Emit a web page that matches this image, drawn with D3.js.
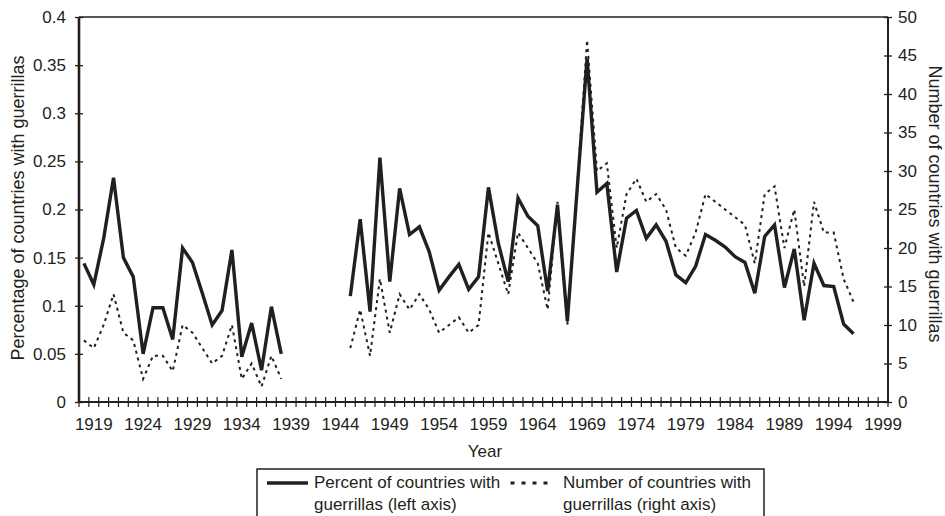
<!DOCTYPE html>
<html>
<head>
<meta charset="utf-8">
<script src="https://cdn.jsdelivr.net/npm/d3@7/dist/d3.min.js"></script>
<style>
    body { margin: 0; background: #fff; }
    text { font-family: "Liberation Sans", Arial, sans-serif; fill: #231f20; }
    .axis-line { stroke: #231f20; fill: none; }
</style>
</head>
<body>
<svg id="chart" width="945" height="516"></svg>
<script>
"use strict";

// categories: one per year, 1918 .. 1999
var years = d3.range(1918, 2000);
var label_years = [1919, 1924, 1929, 1934, 1939, 1944, 1949, 1954, 1959, 1964,
    1969, 1974, 1979, 1984, 1989, 1994, 1999];

// series values per year, 1918 .. 1996 (null = no data)
var percent_with_guerrillas = [
    0.144, 0.122, 0.170, 0.233, 0.150, 0.130, 0.050, 0.098, 0.098, 0.065,
    0.160, 0.145, 0.113, 0.080, 0.095, 0.158, 0.047, 0.082, 0.033, 0.099,
    0.050,
    null, null, null, null, null, null,
    0.110, 0.190, 0.094, 0.254, 0.125, 0.222, 0.174, 0.182, 0.156, 0.116,
    0.130, 0.143, 0.117, 0.130, 0.223, 0.165, 0.125, 0.212, 0.193, 0.183,
    0.115, 0.205, 0.084, 0.222, 0.357, 0.218, 0.227, 0.135, 0.191, 0.199,
    0.170, 0.184, 0.167, 0.132, 0.124, 0.141, 0.174, 0.168, 0.161, 0.151,
    0.145, 0.113, 0.172, 0.184, 0.119, 0.159, 0.085, 0.144, 0.121, 0.120,
    0.081, 0.071
];
var number_with_guerrillas = [
    8, 7, 10, 14, 9, 8, 3, 6, 6, 4,
    10, 9, 7, 5, 6, 10, 3, 5, 2, 6,
    3,
    null, null, null, null, null, null,
    7, 12, 6, 16, 9, 14, 12, 14, 12, 9,
    10, 11, 9, 10, 22, 18, 14, 22, 20, 18,
    12, 26, 10, 28, 47, 30, 31, 20, 27, 29,
    26, 27, 25, 20, 19, 22, 27, 26, 25, 24,
    23, 18, 27, 28, 20, 25, 15, 26, 22, 22,
    16, 13
];

// tick labels
var left_ticks = [0, 0.05, 0.1, 0.15, 0.2, 0.25, 0.3, 0.35, 0.4];
var right_ticks = [0, 5, 10, 15, 20, 25, 30, 35, 40, 45, 50];

var legend_items = [
    { lines: ["Percent of countries with", "guerrillas (left axis)"], dashed: false },
    { lines: ["Number of countries with", "guerrillas (right axis)"], dashed: true }
];

var plot = { left: 79, right: 888, top: 17, bottom: 402 };
var ink = "#231f20";

var svg = d3.select("#chart");

//
// scales
//

var x = d3.scaleBand()
    .domain(years)
    .range([plot.left, plot.right])
    .paddingInner(0)
    .paddingOuter(0);

function x_mid(year) {
    return x(year) + x.bandwidth() / 2;
}

var y_left = d3.scaleLinear().domain([0, 0.4]).range([plot.bottom, plot.top]);
var y_right = d3.scaleLinear().domain([0, 50]).range([plot.bottom, plot.top]);

//
// frame and axes
//

// top border of plot area
svg.append("line")
    .attr("class", "axis-line")
    .attr("x1", plot.left).attr("x2", plot.right)
    .attr("y1", plot.top).attr("y2", plot.top)
    .attr("stroke", "#444")
    .attr("stroke-width", 1.5);

// left axis
var left_axis = svg.append("g")
    .attr("transform", "translate(" + plot.left + ",0)")
    .call(d3.axisLeft(y_left)
        .tickValues(left_ticks)
        .tickFormat(function (d) { return d === 0 ? "0" : String(+d.toFixed(2)); })
        .tickSize(4)
        .tickPadding(9));
left_axis.select(".domain").remove();
left_axis.selectAll(".tick line").attr("x1", 4).attr("stroke", ink).attr("stroke-width", 1.3);
left_axis.selectAll(".tick text")
    .attr("font-size", 17)
    .attr("font-family", "Liberation Sans, Arial, sans-serif")
    .attr("fill", ink);
svg.append("line")
    .attr("class", "axis-line")
    .attr("x1", plot.left).attr("x2", plot.left)
    .attr("y1", plot.top).attr("y2", plot.bottom)
    .attr("stroke-width", 2.6);

// right axis
var right_axis = svg.append("g")
    .attr("transform", "translate(" + plot.right + ",0)")
    .call(d3.axisRight(y_right)
        .tickValues(right_ticks)
        .tickSize(4)
        .tickPadding(6));
right_axis.select(".domain").remove();
right_axis.selectAll(".tick line").attr("x1", -4).attr("stroke", ink).attr("stroke-width", 1.3);
right_axis.selectAll(".tick text")
    .attr("font-size", 17)
    .attr("font-family", "Liberation Sans, Arial, sans-serif")
    .attr("fill", ink);
svg.append("line")
    .attr("class", "axis-line")
    .attr("x1", plot.right).attr("x2", plot.right)
    .attr("y1", plot.top).attr("y2", plot.bottom)
    .attr("stroke-width", 2);

// bottom axis: crossing tick marks between categories
var tick_positions = years.map(function (d) { return x(d); }).concat([plot.right]);
svg.append("g").selectAll("line")
    .data(tick_positions)
    .enter().append("line")
    .attr("x1", function (d) { return d; })
    .attr("x2", function (d) { return d; })
    .attr("y1", plot.bottom - 5)
    .attr("y2", plot.bottom + 5)
    .attr("stroke", ink)
    .attr("stroke-width", 1.2);
svg.append("line")
    .attr("class", "axis-line")
    .attr("x1", plot.left).attr("x2", plot.right)
    .attr("y1", plot.bottom).attr("y2", plot.bottom)
    .attr("stroke-width", 2);

svg.append("g").selectAll("text")
    .data(label_years)
    .enter().append("text")
    .attr("x", function (d) { return x_mid(d); })
    .attr("y", 430)
    .attr("text-anchor", "middle")
    .attr("font-size", 17)
    .text(function (d) { return d; });

// axis titles
svg.append("text")
    .attr("transform", "translate(485,457)")
    .attr("text-anchor", "middle")
    .attr("font-size", 17)
    .text("Year");

svg.append("text")
    .attr("transform", "translate(18,208) rotate(-90)")
    .attr("text-anchor", "middle")
    .attr("dy", "0.35em")
    .attr("font-size", 18)
    .text("Percentage of countries with guerrillas");

svg.append("text")
    .attr("transform", "translate(935,204) rotate(90)")
    .attr("text-anchor", "middle")
    .attr("dy", "0.35em")
    .attr("font-size", 18)
    .text("Number of countries with guerrillas");

//
// series
//

var number_line = d3.line()
    .defined(function (d, i) { return number_with_guerrillas[i] !== null; })
    .x(function (d, i) { return x_mid(years[i]); })
    .y(function (d) { return y_right(d); });

svg.append("path")
    .attr("d", number_line(number_with_guerrillas))
    .attr("fill", "none")
    .attr("stroke", ink)
    .attr("stroke-width", 2)
    .attr("stroke-dasharray", "3,4");

var percent_line = d3.line()
    .defined(function (d, i) { return percent_with_guerrillas[i] !== null; })
    .x(function (d, i) { return x_mid(years[i]); })
    .y(function (d) { return y_left(d); });

svg.append("path")
    .attr("d", percent_line(percent_with_guerrillas))
    .attr("fill", "none")
    .attr("stroke", ink)
    .attr("stroke-width", 3.4)
    .attr("stroke-linejoin", "miter");

//
// legend
//

var legend = svg.append("g").attr("transform", "translate(257,469)");
legend.append("rect")
    .attr("width", 507)
    .attr("height", 60)
    .attr("fill", "none")
    .attr("stroke", ink)
    .attr("stroke-width", 1.5);

var entries = legend.selectAll("g.entry")
    .data(legend_items)
    .enter().append("g")
    .attr("class", "entry")
    .attr("transform", function (d, i) { return "translate(" + (i * 249) + ",0)"; });

entries.append("line")
    .attr("x1", function (d) { return d.dashed ? 4.5 : 10; })
    .attr("x2", function (d) { return d.dashed ? 44 : 51; })
    .attr("y1", 14).attr("y2", 14)
    .attr("stroke", ink)
    .attr("stroke-width", function (d) { return d.dashed ? 3 : 3.6; })
    .attr("stroke-dasharray", function (d) { return d.dashed ? "4,7" : null; });

entries.append("text")
    .attr("x", 57)
    .attr("y", 19)
    .attr("font-size", 17)
    .selectAll("tspan")
    .data(function (d) { return d.lines; })
    .enter().append("tspan")
    .attr("x", 57)
    .attr("dy", function (d, i) { return i === 0 ? 0 : 22; })
    .text(function (d) { return d; });
</script>
</body>
</html>
